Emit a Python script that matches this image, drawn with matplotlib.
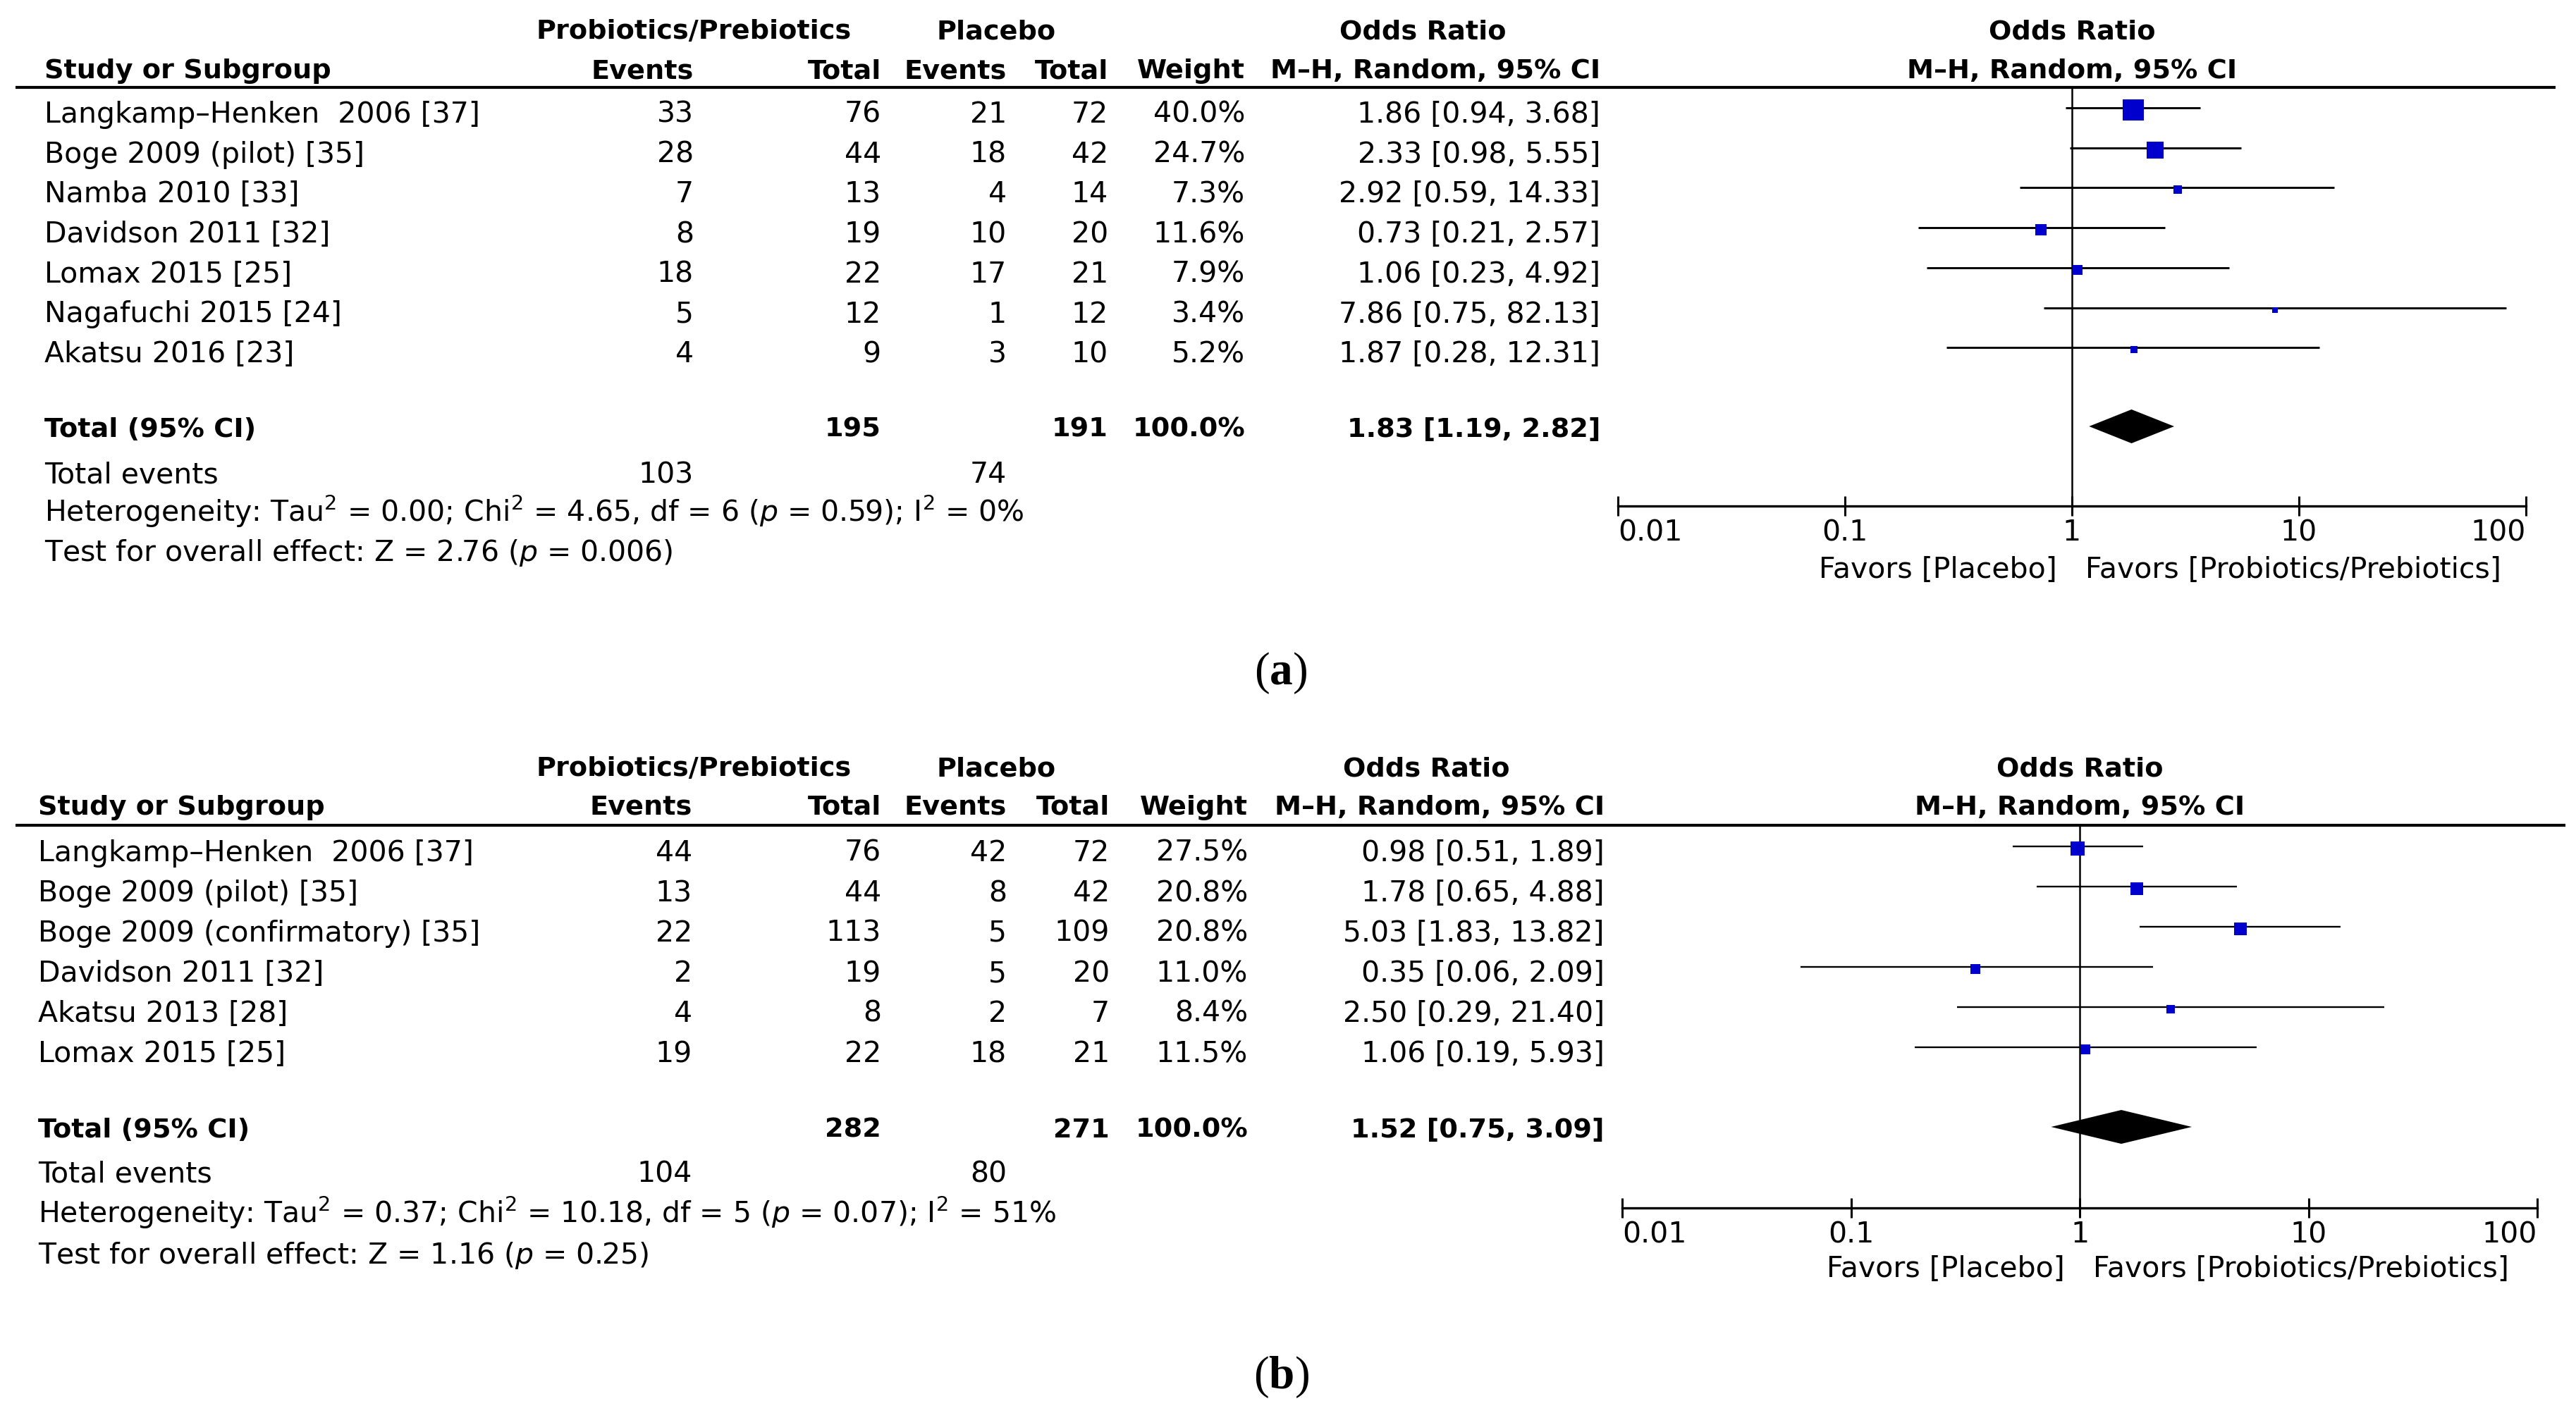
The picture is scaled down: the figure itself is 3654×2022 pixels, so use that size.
import matplotlib
matplotlib.use("Agg")
import matplotlib.pyplot as plt
from matplotlib import transforms
from matplotlib.ticker import NullLocator

plt.rcParams['font.family'] = ['DejaVu Sans']
plt.rcParams['mathtext.fontset'] = 'custom'
plt.rcParams['mathtext.rm'] = 'DejaVu Sans'
plt.rcParams['mathtext.it'] = 'DejaVu Sans:italic'
plt.rcParams['mathtext.bf'] = 'Liberation Serif:bold'

W, H = 3655, 2022
FS = 29.5
FS_B = 27.5  # DejaVu bold runs wide, so shrink it a bit
BASE = 15  # px from the visual middle of a row to the text baseline

# ---- panel (a) data ----
studies_a = ["Langkamp–Henken  2006 [37]", "Boge 2009 (pilot) [35]", "Namba 2010 [33]",
             "Davidson 2011 [32]", "Lomax 2015 [25]", "Nagafuchi 2015 [24]", "Akatsu 2016 [23]"]
exp_events_a = [33, 28, 7, 8, 18, 5, 4]
exp_total_a = [76, 44, 13, 19, 22, 12, 9]
ctl_events_a = [21, 18, 4, 10, 17, 1, 3]
ctl_total_a = [72, 42, 14, 20, 21, 12, 10]
weight_a = [40.0, 24.7, 7.3, 11.6, 7.9, 3.4, 5.2]
or_a = [1.86, 2.33, 2.92, 0.73, 1.06, 7.86, 1.87]
lo_a = [0.94, 0.98, 0.59, 0.21, 0.23, 0.75, 0.28]
hi_a = [3.68, 5.55, 14.33, 2.57, 4.92, 82.13, 12.31]
total_a = [195, 191]
pooled_a = [1.83, 1.19, 2.82]
events_a = [103, 74]
het_a = r"Heterogeneity: Tau$^2$ = 0.00; Chi$^2$ = 4.65, df = 6 ($p$ = 0.59); I$^2$ = 0%"
test_a = r"Test for overall effect: Z = 2.76 ($p$ = 0.006)"

# ---- panel (b) data ----
studies_b = ["Langkamp–Henken  2006 [37]", "Boge 2009 (pilot) [35]", "Boge 2009 (confirmatory) [35]",
             "Davidson 2011 [32]", "Akatsu 2013 [28]", "Lomax 2015 [25]"]
exp_events_b = [44, 13, 22, 2, 4, 19]
exp_total_b = [76, 44, 113, 19, 8, 22]
ctl_events_b = [42, 8, 5, 5, 2, 18]
ctl_total_b = [72, 42, 109, 20, 7, 21]
weight_b = [27.5, 20.8, 20.8, 11.0, 8.4, 11.5]
or_b = [0.98, 1.78, 5.03, 0.35, 2.50, 1.06]
lo_b = [0.51, 0.65, 1.83, 0.06, 0.29, 0.19]
hi_b = [1.89, 4.88, 13.82, 2.09, 21.40, 5.93]
total_b = [282, 271]
pooled_b = [1.52, 0.75, 3.09]
events_b = [104, 80]
het_b = r"Heterogeneity: Tau$^2$ = 0.37; Chi$^2$ = 10.18, df = 5 ($p$ = 0.07); I$^2$ = 51%"
test_b = r"Test for overall effect: Z = 1.16 ($p$ = 0.25)"

ticks = [0.01, 0.1, 1, 10, 100]
tick_labels = ["0.01", "0.1", "1", "10", "100"]

# layout in pixels (y grows downwards)
lay_a = dict(left=63, line_l=22, line_r=3625, head1=40, head2=96, hline=124, row0=159, step=56.7,
             total=605, events=670, het=725, test=781, ax_l=2295, ax_r=3583, ax_y=718,
             favors=805, tag_y=955, sq_k=4.74, ci_lw=2.1,
             cols=[984, 1250, 1428, 1572, 1766, 2270])
lay_b = dict(left=54, line_l=22, line_r=3639, head1=1086, head2=1141, hline=1171, row0=1207, step=57,
             total=1599, events=1663, het=1720, test=1778, ax_l=2301, ax_r=3599, ax_y=1714,
             favors=1797, tag_y=1954, sq_k=4.0, ci_lw=1.7,
             cols=[982, 1250, 1428, 1574, 1770, 2276])

fig = plt.figure(figsize=(W / 100, H / 100), dpi=100)
tab = fig.add_axes([0, 0, 1, 1])
tab.set_xlim(0, W)
tab.set_ylim(H, 0)
tab.axis('off')


def txt(x, y, s, ha='left', bold=False, **kw):
    tab.text(x, y + BASE, s, ha=ha, va='baseline', fontsize=FS_B if bold else FS,
             fontweight='bold' if bold else 'normal', **kw)


def draw_panel(L, studies, ee, et, ce, ct, wt, orr, lo, hi, tot, pooled, ev, het, test, tag):
    c = L['cols']
    # header
    txt(984, L['head1'], "Probiotics/Prebiotics", ha='center', bold=True)
    txt(1413, L['head1'], "Placebo", ha='center', bold=True)
    txt((c[4] + c[5]) / 2, L['head1'], "Odds Ratio", ha='center', bold=True)
    txt(L['left'], L['head2'], "Study or Subgroup", bold=True)
    for x, s in zip(c, ["Events", "Total", "Events", "Total", "Weight", "M–H, Random, 95% CI"]):
        txt(x, L['head2'], s, ha='right', bold=True)
    tab.plot([L['line_l'], L['line_r']], [L['hline'], L['hline']], color='black', lw=3,
             solid_capstyle='butt')

    # study rows
    for i, name in enumerate(studies):
        y = L['row0'] + i * L['step']
        txt(L['left'], y, name)
        cells = [str(ee[i]), str(et[i]), str(ce[i]), str(ct[i]), f"{wt[i]:.1f}%",
                 f"{orr[i]:.2f} [{lo[i]:.2f}, {hi[i]:.2f}]"]
        for x, s in zip(c, cells):
            txt(x, y, s, ha='right')

    # totals
    txt(L['left'], L['total'], "Total (95% CI)", bold=True)
    txt(c[1], L['total'], str(tot[0]), ha='right', bold=True)
    txt(c[3], L['total'], str(tot[1]), ha='right', bold=True)
    txt(c[4], L['total'], "100.0%", ha='right', bold=True)
    txt(c[5], L['total'], f"{pooled[0]:.2f} [{pooled[1]:.2f}, {pooled[2]:.2f}]", ha='right', bold=True)
    txt(L['left'], L['events'], "Total events")
    txt(c[0], L['events'], str(ev[0]), ha='right')
    txt(c[2], L['events'], str(ev[1]), ha='right')
    txt(L['left'], L['het'], het)
    txt(L['left'], L['test'], test)

    # forest plot
    ax = fig.add_axes([L['ax_l'] / W, 1 - L['ax_y'] / H, (L['ax_r'] - L['ax_l']) / W,
                       (L['ax_y'] - L['hline']) / H])
    ax.set_xscale('log')
    ax.set_xlim(0.01, 100)
    ax.set_ylim(L['ax_y'], L['hline'])
    ax.patch.set_visible(False)
    for s in ['top', 'left', 'right']:
        ax.spines[s].set_visible(False)
    ax.spines['bottom'].set_linewidth(2.4)
    ax.set_yticks([])
    ax.set_xticks(ticks, tick_labels)
    ax.xaxis.set_minor_locator(NullLocator())
    ax.tick_params(axis='x', direction='inout', length=20, width=2.2, labelsize=FS, pad=3)
    labs = ax.get_xticklabels()
    labs[0].set_ha('left')
    labs[-1].set_ha('right')
    ax.axvline(1, color='black', lw=1.8)

    for i in range(len(orr)):
        y = L['row0'] + i * L['step']
        ax.plot([lo[i], hi[i]], [y - 6, y - 6], color='black', lw=L['ci_lw'], solid_capstyle='butt')
        side = L['sq_k'] * wt[i] ** 0.5
        ax.plot(orr[i], y - 3, marker='s', ms=side * 0.72, color='#0000cc', mew=0, ls='none')
    yt = L['total']
    ax.fill([pooled[1], pooled[0], pooled[2], pooled[0]], [yt, yt - 24, yt, yt + 24],
            color='black', lw=0)

    # texts tied to the OR scale
    bt = transforms.blended_transform_factory(ax.transData, tab.transData)
    tab.text(1, L['head1'] + BASE, "Odds Ratio", transform=bt, ha='center', va='baseline',
             fontsize=FS_B, fontweight='bold')
    tab.text(1, L['head2'] + BASE, "M–H, Random, 95% CI", transform=bt, ha='center',
             va='baseline', fontsize=FS_B, fontweight='bold')
    tab.annotate("Favors [Placebo]", xy=(1, L['favors'] + BASE), xycoords=bt,
                 xytext=(-15, 0), textcoords='offset points', ha='right', va='baseline', fontsize=FS)
    tab.annotate("Favors [Probiotics/Prebiotics]", xy=(1, L['favors'] + BASE), xycoords=bt,
                 xytext=(14, 0), textcoords='offset points', ha='left', va='baseline', fontsize=FS)

    tab.text(1817, L['tag_y'], tag, ha='center', va='center', fontsize=47,
             family='Liberation Serif')


draw_panel(lay_a, studies_a, exp_events_a, exp_total_a, ctl_events_a, ctl_total_a, weight_a,
           or_a, lo_a, hi_a, total_a, pooled_a, events_a, het_a, test_a, r"($\mathbf{a}$)")
draw_panel(lay_b, studies_b, exp_events_b, exp_total_b, ctl_events_b, ctl_total_b, weight_b,
           or_b, lo_b, hi_b, total_b, pooled_b, events_b, het_b, test_b, r"($\mathbf{b}$)")

fig.savefig("out.png", dpi=100, facecolor='white')
